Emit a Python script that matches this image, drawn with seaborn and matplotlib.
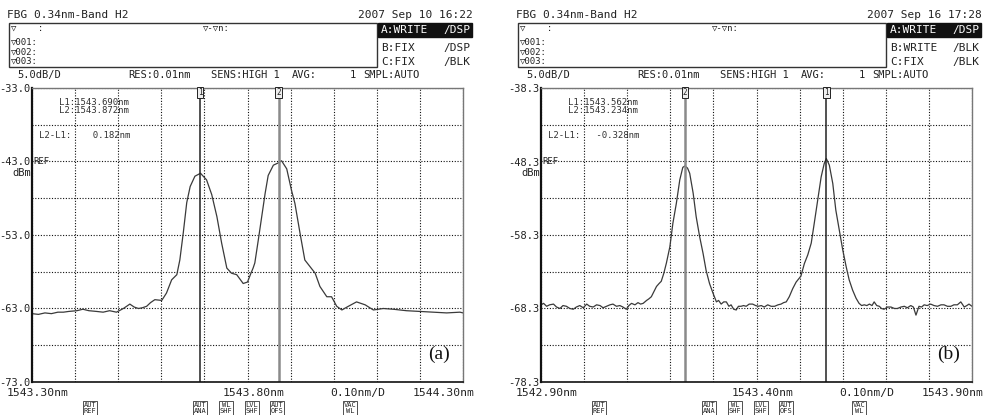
import matplotlib
matplotlib.use("Agg")
import matplotlib.pyplot as plt
from matplotlib.patches import Rectangle
import pandas as pd
import seaborn as sns

# ---- trace (a): wavelength [nm], level [dBm]
wl_a = [1543.300, 1543.315, 1543.330, 1543.345, 1543.360, 1543.373, 1543.385, 1543.404,
        1543.418, 1543.432, 1543.450, 1543.465, 1543.480, 1543.496, 1543.512, 1543.527,
        1543.537, 1543.547, 1543.556, 1543.566, 1543.575, 1543.585, 1543.601, 1543.612,
        1543.624, 1543.636, 1543.643, 1543.651, 1543.659, 1543.667, 1543.678, 1543.691,
        1543.705, 1543.717, 1543.729, 1543.740, 1543.752, 1543.763, 1543.775, 1543.790,
        1543.800, 1543.808, 1543.813, 1543.817, 1543.825, 1543.833, 1543.841, 1543.848,
        1543.860, 1543.871, 1543.879, 1543.891, 1543.902, 1543.910, 1543.922, 1543.933,
        1543.945, 1543.957, 1543.968, 1543.984, 1543.995, 1544.007, 1544.019, 1544.034,
        1544.053, 1544.073, 1544.092, 1544.115, 1544.138, 1544.169, 1544.200, 1544.231,
        1544.262, 1544.293, 1544.300]
db_a = [-63.7, -63.8, -63.6, -63.7, -63.5, -63.5, -63.4, -63.3,
        -63.1, -63.3, -63.4, -63.5, -63.3, -63.5, -63.0, -62.4,
        -62.8, -63.0, -62.9, -62.7, -62.2, -61.8, -61.9, -60.9,
        -59.1, -58.4, -56.4, -52.7, -48.6, -46.4, -45.0, -44.6,
        -45.5, -47.5, -50.5, -54.1, -57.5, -58.2, -58.4, -59.6,
        -59.4, -58.2, -57.5, -56.8, -53.7, -50.5, -47.3, -44.9,
        -43.5, -43.2, -42.9, -44.0, -46.9, -48.7, -52.8, -56.4,
        -57.3, -58.2, -60.0, -61.4, -61.4, -62.7, -63.2, -62.7,
        -62.1, -62.5, -63.2, -63.0, -63.1, -63.3, -63.4, -63.5,
        -63.6, -63.5, -63.6]

# ---- trace (b)
wl_b = [1542.900, 1542.906, 1542.913, 1542.920, 1542.929, 1542.936, 1542.944, 1542.951,
        1542.959, 1542.967, 1542.975, 1542.982, 1542.990, 1542.998, 1543.006, 1543.013,
        1543.021, 1543.029, 1543.037, 1543.044, 1543.052, 1543.060, 1543.067, 1543.075,
        1543.083, 1543.090, 1543.098, 1543.104, 1543.110, 1543.118, 1543.125, 1543.131,
        1543.137, 1543.145, 1543.150, 1543.156, 1543.162, 1543.168, 1543.174, 1543.179,
        1543.185, 1543.191, 1543.195, 1543.199, 1543.206, 1543.214, 1543.222, 1543.229,
        1543.234, 1543.240, 1543.245, 1543.253, 1543.260, 1543.268, 1543.276, 1543.283,
        1543.291, 1543.299, 1543.307, 1543.312, 1543.318, 1543.324, 1543.330, 1543.336,
        1543.341, 1543.347, 1543.353, 1543.358, 1543.364, 1543.370, 1543.376, 1543.383,
        1543.391, 1543.398, 1543.404, 1543.411, 1543.418, 1543.426, 1543.434, 1543.442,
        1543.450, 1543.457, 1543.463, 1543.469, 1543.476, 1543.484, 1543.492, 1543.503,
        1543.511, 1543.519, 1543.527, 1543.534, 1543.542, 1543.550, 1543.557, 1543.562,
        1543.569, 1543.577, 1543.584, 1543.592, 1543.600, 1543.608, 1543.615, 1543.623,
        1543.631, 1543.638, 1543.644, 1543.650, 1543.656, 1543.662, 1543.668, 1543.673,
        1543.679, 1543.685, 1543.690, 1543.696, 1543.704, 1543.712, 1543.720, 1543.727,
        1543.735, 1543.743, 1543.750, 1543.758, 1543.764, 1543.770, 1543.777, 1543.783,
        1543.789, 1543.796, 1543.804, 1543.812, 1543.820, 1543.828, 1543.835, 1543.843,
        1543.851, 1543.858, 1543.866, 1543.874, 1543.882, 1543.888, 1543.893, 1543.900]
db_b = [-67.8, -67.6, -68.0, -67.8, -67.7, -68.1, -68.3, -67.9,
        -68.0, -68.3, -68.4, -68.1, -67.9, -68.2, -67.7, -68.0,
        -68.1, -67.8, -67.9, -68.2, -68.0, -67.8, -67.7, -68.0,
        -67.9, -68.1, -68.4, -67.9, -67.6, -67.8, -67.5, -67.7,
        -67.6, -67.2, -67.0, -66.7, -66.0, -65.3, -64.9, -64.6,
        -63.5, -62.1, -61.0, -59.9, -56.7, -54.0, -50.8, -49.1,
        -48.9, -49.2, -49.9, -52.6, -55.8, -58.5, -60.8, -63.1,
        -64.9, -66.2, -67.4, -67.2, -67.7, -67.4, -67.4, -68.0,
        -67.8, -68.4, -68.5, -68.0, -68.0, -67.9, -68.0, -67.7,
        -67.7, -67.9, -68.0, -67.9, -68.1, -67.8, -68.0, -68.0,
        -67.8, -67.7, -67.5, -67.4, -66.7, -65.6, -64.7, -63.9,
        -62.2, -61.0, -59.4, -56.7, -53.5, -50.4, -48.6, -47.9,
        -48.8, -51.3, -54.9, -57.6, -60.3, -62.6, -64.4, -65.8,
        -66.9, -67.6, -67.9, -67.8, -67.9, -67.7, -67.9, -67.4,
        -67.9, -68.0, -68.3, -68.4, -68.1, -68.1, -68.3, -68.3,
        -68.1, -68.0, -68.2, -67.9, -68.1, -69.2, -68.0, -68.1,
        -67.8, -67.9, -67.7, -67.9, -68.0, -67.8, -67.8, -68.0,
        -68.0, -67.8, -67.8, -67.4, -68.1, -67.9, -67.7, -68.0]

# marker wavelengths (L1, L2)
markers_a = [1543.690, 1543.872]
markers_b = [1543.562, 1543.234]

xlim_a = (1543.30, 1544.30)
xlim_b = (1542.90, 1543.90)
ylim_a = (-73.0, -33.0)
ylim_b = (-78.3, -38.3)
ylab_a = ["-73.0", "-63.0", "-53.0", "-43.0", "-33.0"]
ylab_b = ["-78.3", "-68.3", "-58.3", "-48.3", "-38.3"]
xlab_a = ["1543.30nm", "1543.80nm", "0.10nm/D", "1544.30nm"]
xlab_b = ["1542.90nm", "1543.40nm", "0.10nm/D", "1543.90nm"]

dates = ["2007 Sep 10 16:22", "2007 Sep 16 17:28"]
trace_b_rows = [["B:FIX", "/DSP"], ["B:WRITE", "/BLK"]]
trace_c_rows = [["C:FIX", "/BLK"], ["C:FIX", "/BLK"]]
panel_tags = ["(a)", "(b)"]

sns.set_style("white")
plt.rcParams["font.family"] = ["DejaVu Sans Mono", "DejaVu Sans"]

W, H = 987, 415
fig = plt.figure(figsize=(W / 100, H / 100), dpi=100)


def fpos(x, y):
    return x / W, 1 - y / H


def ftext(x, y, s, **kw):
    kw.setdefault("va", "center")
    kw.setdefault("fontsize", 8)
    kw.setdefault("color", "#222")
    fig.text(*fpos(x, y), s, **kw)


def frect(x0, y0, x1, y1, **kw):
    fig.add_artist(Rectangle(fpos(x0, y1), (x1 - x0) / W, (y1 - y0) / H,
                             transform=fig.transFigure, **kw))


def panel(i, off, wl, db, markers, xlim, ylim, ylab, xlab):
    # header
    ftext(off + 7, 15, "FBG 0.34nm-Band H2")
    ftext(off + 358, 15, dates[i])
    frect(off + 9, 23, off + 377, 67, fill=False, ec="#333", lw=1)
    ftext(off + 11, 28, "\u25bd    :", fontsize=6.5)
    ftext(off + 11, 42, "\u25bd001:", fontsize=6.5)
    ftext(off + 11, 52, "\u25bd002:", fontsize=6.5)
    ftext(off + 11, 61, "\u25bd003:", fontsize=6.5)
    ftext(off + 203, 28, "\u25bd-\u25bdn:", fontsize=6.5)
    frect(off + 378, 23, off + 472, 37, fc="#111", ec="#111")
    ftext(off + 381, 30, "A:WRITE", color="white")
    ftext(off + 470, 30, "/DSP", color="white", ha="right")
    ftext(off + 381, 48, trace_b_rows[i][0])
    ftext(off + 470, 48, trace_b_rows[i][1], ha="right")
    ftext(off + 381, 62, trace_c_rows[i][0])
    ftext(off + 470, 62, trace_c_rows[i][1], ha="right")
    row = dict(fontsize=7.5)
    ftext(off + 17, 75, "5.0dB/D", **row)
    ftext(off + 128, 75, "RES:0.01nm", **row)
    ftext(off + 211, 75, "SENS:HIGH 1", **row)
    ftext(off + 292, 75, "AVG:", **row)
    ftext(off + 350, 75, "1", **row)
    ftext(off + 363, 75, "SMPL:AUTO", **row)

    # plot area
    x0, x1, y0, y1 = off + 32, off + 463, 88, 382
    ax = fig.add_axes([x0 / W, 1 - y1 / H, (x1 - x0) / W, (y1 - y0) / H])
    df = pd.DataFrame({"wl": wl, "db": db})
    sns.lineplot(data=df, x="wl", y="db", ax=ax, color="#3a3a3a", lw=0.9,
                 estimator=None, sort=False)
    ax.set_xlim(*xlim)
    ax.set_ylim(*ylim)
    step_x = (xlim[1] - xlim[0]) / 10
    step_y = (ylim[1] - ylim[0]) / 8
    ax.set_xticks([xlim[0] + k * step_x for k in range(11)])
    ax.set_yticks([ylim[0] + k * step_y for k in range(9)])
    ax.set_xticklabels([])
    labels = []
    for k in range(9):
        labels.append(ylab[k // 2] if k % 2 == 0 else "")
    ax.set_yticklabels(labels, fontsize=7.5, color="#222")
    ax.tick_params(length=0, pad=1)
    ax.set_xlabel("")
    ax.set_ylabel("")
    ax.grid(True, color="#111", ls=(0, (1, 1.5)), lw=0.8)
    for s in ["top", "right"]:
        ax.spines[s].set_color("#777")
        ax.spines[s].set_linewidth(1.0)
    ax.spines["left"].set_color("#111")
    ax.spines["left"].set_linewidth(1.6)
    ax.spines["bottom"].set_color("#111")
    ax.spines["bottom"].set_linewidth(1.2)

    # markers
    ax.axvline(markers[0], color="#222", lw=1.1)
    ax.axvline(markers[1], color="#8a8a8a", lw=1.8)
    for m, tag in zip(markers, ["1", "2"]):
        ax.text(m, ylim[1], tag, ha="center", va="top", fontsize=5.5,
                bbox=dict(boxstyle="square,pad=0.12", fc="#eee", ec="#222", lw=0.7))
    ax.text(0.062, 0.952, "L1:%.3fnm" % markers[0], transform=ax.transAxes,
            fontsize=6.5, va="center", color="#333")
    ax.text(0.062, 0.925, "L2:%.3fnm" % markers[1], transform=ax.transAxes,
            fontsize=6.5, va="center", color="#333")
    diff = markers[1] - markers[0]
    ax.text(0.016, 0.840, "L2-L1:   %6.3fnm" % diff, transform=ax.transAxes,
            fontsize=6.5, va="center", color="#333")
    ax.text(0.004, 0.75, "REF", transform=ax.transAxes, fontsize=6.5,
            va="center", color="#222")
    ftext(off + 31, 173, "dBm", ha="right", fontsize=7.5)
    ax.text(0.945, 0.095, panel_tags[i], transform=ax.transAxes, ha="center",
            va="center", fontsize=14, family="Liberation Serif", color="#111")

    # bottom scale
    for xf, s in zip([0.014, 0.513, 0.756, 0.954], xlab):
        ax.text(xf, -0.037, s, transform=ax.transAxes, ha="center", va="center",
                fontsize=8.2, color="#222")

    # soft keys
    keys = [(90, "AUT\nREF"), (200, "AUT\nANA"), (226, "WL\nSHF"),
            (252, "LVL\nSHF"), (277, "AUT\nOFS"), (350, "VAC\nWL")]
    for kx, s in keys:
        ftext(off + kx, 402, s, ha="center", va="top", fontsize=5,
              linespacing=0.95,
              bbox=dict(boxstyle="square,pad=0.15", fc="white", ec="#333", lw=0.6))


panel(0, 0, wl_a, db_a, markers_a, xlim_a, ylim_a, ylab_a, xlab_a)
panel(1, 509, wl_b, db_b, markers_b, xlim_b, ylim_b, ylab_b, xlab_b)

fig.savefig("out.png", dpi=100)
